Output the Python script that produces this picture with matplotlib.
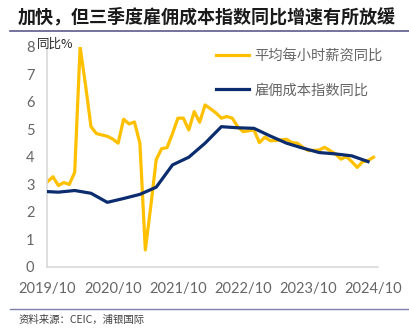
import numpy as np
import matplotlib.pyplot as plt
from matplotlib.lines import Line2D

plt.rcParams['font.family'] = ['Noto Sans CJK SC', 'DejaVu Sans']

# monthly index: 0 = 2019/10 ... 60 = 2024/10
ahe_month = np.arange(0, 61)
ahe_yoy = [3.10, 3.28, 2.96, 3.07, 3.00, 3.44, 8.00, 6.60, 5.10, 4.85,
           4.80, 4.75, 4.65, 4.50, 5.37, 5.20, 5.27, 4.50, 0.62, 2.20,
           3.90, 4.30, 4.34, 4.85, 5.41, 5.41, 4.98, 5.65, 5.26, 5.89,
           5.75, 5.60, 5.41, 5.47, 5.41, 5.10, 4.92, 4.95, 4.98, 4.52,
           4.72, 4.59, 4.60, 4.62, 4.64, 4.52, 4.50, 4.35, 4.23, 4.24,
           4.25, 4.35, 4.23, 4.11, 3.92, 4.01, 3.83, 3.62, 3.83, 3.87,
           3.99]

# quarterly employment cost index
eci_month = [0, 2, 5, 8, 11, 14, 17, 20, 23, 26, 29, 32, 35, 38, 41, 44, 47, 50, 53, 56, 59]
eci_yoy = [2.74, 2.72, 2.78, 2.68, 2.35, 2.49, 2.64, 2.90, 3.71, 3.99,
           4.50, 5.10, 5.06, 5.04, 4.76, 4.50, 4.32, 4.16, 4.11, 4.04, 3.83]

tick_pos = [0, 12, 24, 36, 48, 60]
tick_labels = ['2019/10', '2020/10', '2021/10', '2022/10', '2023/10', '2024/10']

title = '加快，但三季度雇佣成本指数同比增速有所放缓'
source = '资料来源：CEIC，浦银国际'
yellow = '#FFC000'
navy = '#0B2C6E'
grey = '#666666'

fig = plt.figure(figsize=(4.10, 3.34), dpi=100)
ax = fig.add_axes([0.1146, 0.2006, 0.807, 0.659])

ax.plot(ahe_month, ahe_yoy, color=yellow, lw=2.3, label='平均每小时薪资同比',
        solid_joinstyle='round', zorder=2)
ax.plot(eci_month, eci_yoy, color=navy, lw=2.3, label='雇佣成本指数同比',
        solid_joinstyle='round', zorder=3)

ax.set_xlim(-0.1, 60.8)
ax.set_ylim(0, 8)
ax.set_yticks(range(0, 9))
ax.set_xticks(tick_pos)
ax.set_xticklabels(tick_labels)
for lab in ax.get_xticklabels() + ax.get_yticklabels():
    lab.set_family(['Lato', 'DejaVu Sans'])
ax.tick_params(length=0, labelsize=10.5, colors=grey)
ax.tick_params(axis='x', pad=11)
ax.tick_params(axis='y', pad=9)

for s in ['top', 'right']:
    ax.spines[s].set_visible(False)
for s in ['left', 'bottom']:
    ax.spines[s].set_color('#D9D9D9')
    ax.spines[s].set_linewidth(1.2)

ax.text(-0.03, 1.01, '同比%', transform=ax.transAxes, fontsize=9,
        ha='left', va='center', color='#262626')

leg = ax.legend(loc='upper left', bbox_to_anchor=(0.472, 1.05), frameon=False,
                fontsize=10.3, handlelength=2.3, handletextpad=0.4,
                labelspacing=1.45)
for t in leg.get_texts():
    t.set_color(grey)

# title, rules and source
fig.text(0.044, 0.948, title, fontsize=13, fontweight='bold', color='#1a1a1a',
         ha='left', va='center')
fig.add_artist(Line2D([0.024, 1.0], [0.906, 0.906], color='#5A5A8C', lw=1.2))
fig.add_artist(Line2D([0.024, 1.0], [0.075, 0.075], color='#7F7FA8', lw=1.0))
fig.text(0.044, 0.042, source, fontsize=7.5, color='#404040', ha='left', va='center')

fig.savefig('out.png', dpi=100)
